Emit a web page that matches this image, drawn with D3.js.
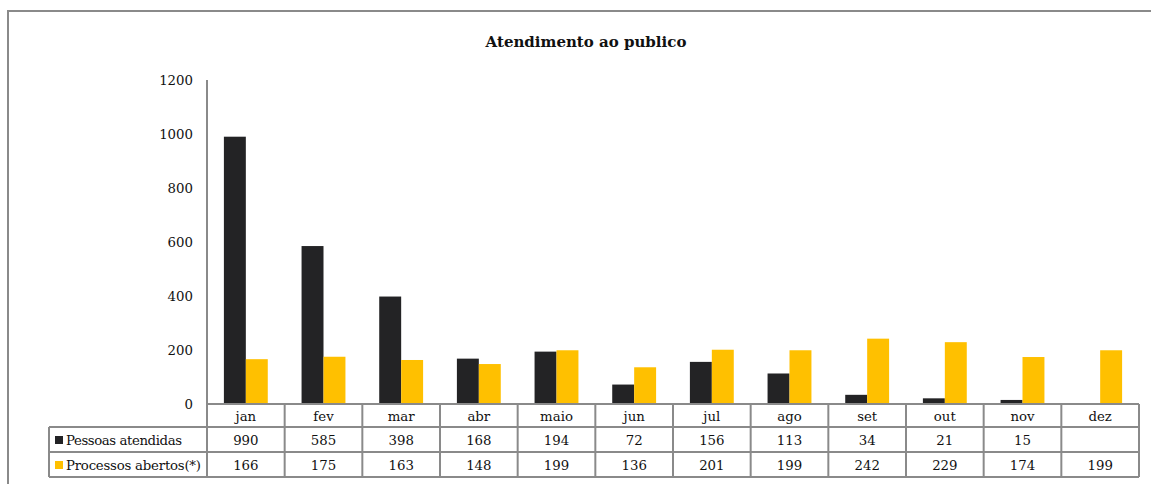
<!DOCTYPE html>
<html lang="pt">
<head>
<meta charset="UTF-8">
<title>Atendimento ao publico</title>
<style>
  body { margin: 0; background: #fff; }
  svg text { font-family: "DejaVu Serif", "Liberation Serif", serif; fill: #111; }
</style>
</head>
<body>
<svg id="chart" width="1151" height="484"></svg>
<script src="https://cdn.jsdelivr.net/npm/d3@7"></script>
<script>
// data
var months = ["jan", "fev", "mar", "abr", "maio", "jun", "jul", "ago", "set", "out", "nov", "dez"];
var pessoas = [990, 585, 398, 168, 194, 72, 156, 113, 34, 21, 15, null];
var processos = [166, 175, 163, 148, 199, 136, 201, 199, 242, 229, 174, 199];
var seriesNames = ["Pessoas atendidas", "Processos abertos(*)"];
var seriesColors = ["#232325", "#ffc000"];
var yTicks = [0, 200, 400, 600, 800, 1000, 1200];

var svg = d3.select("#chart");
var lineColor = "#8a8a8a";
var fontSize = "13.3px";

var plotLeft = 207, plotRight = 1139, plotTop = 80, plotBottom = 404;
var rowH = [23, 25, 25];
var legendLeft = 49;

var x = d3.scaleBand().domain(months).range([plotLeft, plotRight]);
var x1 = d3.scaleBand().domain([0, 1]).range([0, x.bandwidth()]).paddingOuter(0.77);
var y = d3.scaleLinear().domain([0, 1200]).range([plotBottom, plotTop]);

// outer frame (cut off at right and bottom)
svg.append("path")
    .attr("d", "M8,484 V11 H1151")
    .attr("fill", "none")
    .attr("stroke", lineColor)
    .attr("stroke-width", 2);

// title
svg.append("text")
    .attr("x", 586)
    .attr("y", 47)
    .attr("text-anchor", "middle")
    .style("font-weight", "bold")
    .style("font-size", "15px")
    .text("Atendimento ao publico");

// y axis labels
svg.selectAll(".ytick")
    .data(yTicks)
    .enter().append("text")
    .attr("class", "ytick")
    .attr("x", 193)
    .attr("y", function(d) { return y(d) + 5; })
    .attr("text-anchor", "end")
    .style("font-size", fontSize)
    .text(function(d) { return d; });

// bars
var series = [pessoas, processos];
series.forEach(function(vals, s) {
    svg.selectAll(".bar" + s)
        .data(months.map(function(m, i) { return { m: m, v: vals[i] }; }).filter(function(d) { return d.v != null; }))
        .enter().append("rect")
        .attr("x", function(d) { return x(d.m) + x1(s); })
        .attr("width", x1.bandwidth())
        .attr("y", function(d) { return y(d.v); })
        .attr("height", function(d) { return plotBottom - y(d.v); })
        .attr("fill", seriesColors[s]);
});

// data table
var r0 = plotBottom, r1 = r0 + rowH[0], r2 = r1 + rowH[1], r3 = r2 + rowH[2];
var g = svg.append("g")
    .attr("stroke", lineColor)
    .attr("stroke-width", 2);

// axis line + table grid
g.append("line").attr("x1", plotLeft).attr("x2", plotLeft).attr("y1", plotTop).attr("y2", r3);
g.append("line").attr("x1", plotLeft).attr("x2", plotRight).attr("y1", r0).attr("y2", r0);
[r1, r2, r3].forEach(function(yy) {
    g.append("line").attr("x1", legendLeft).attr("x2", plotRight).attr("y1", yy).attr("y2", yy);
});
g.append("line").attr("x1", legendLeft).attr("x2", legendLeft).attr("y1", r1).attr("y2", r3);
months.forEach(function(m) {
    var xe = x(m) + x.bandwidth();
    g.append("line").attr("x1", xe).attr("x2", xe).attr("y1", r0).attr("y2", r3);
});

// month labels
svg.selectAll(".mlab")
    .data(months)
    .enter().append("text")
    .attr("x", function(d) { return x(d) + x.bandwidth() / 2; })
    .attr("y", r0 + 17)
    .attr("text-anchor", "middle")
    .style("font-size", fontSize)
    .text(function(d) { return d; });

// value rows with legend keys
series.forEach(function(vals, s) {
    var rowTop = s == 0 ? r1 : r2;
    svg.selectAll(".val" + s)
        .data(months.map(function(m, i) { return { m: m, v: vals[i] }; }))
        .enter().append("text")
        .attr("x", function(d) { return x(d.m) + x.bandwidth() / 2; })
        .attr("y", rowTop + 18)
        .attr("text-anchor", "middle")
        .style("font-size", fontSize)
        .text(function(d) { return d.v == null ? "" : d.v; });

    svg.append("rect")
        .attr("x", 55)
        .attr("y", rowTop + 9)
        .attr("width", 8)
        .attr("height", 8)
        .attr("fill", seriesColors[s]);

    svg.append("text")
        .attr("x", 66)
        .attr("y", rowTop + 18)
        .style("font-size", fontSize)
        .attr("textLength", s == 0 ? 116 : 135)
        .text(seriesNames[s]);
});
</script>
</body>
</html>
